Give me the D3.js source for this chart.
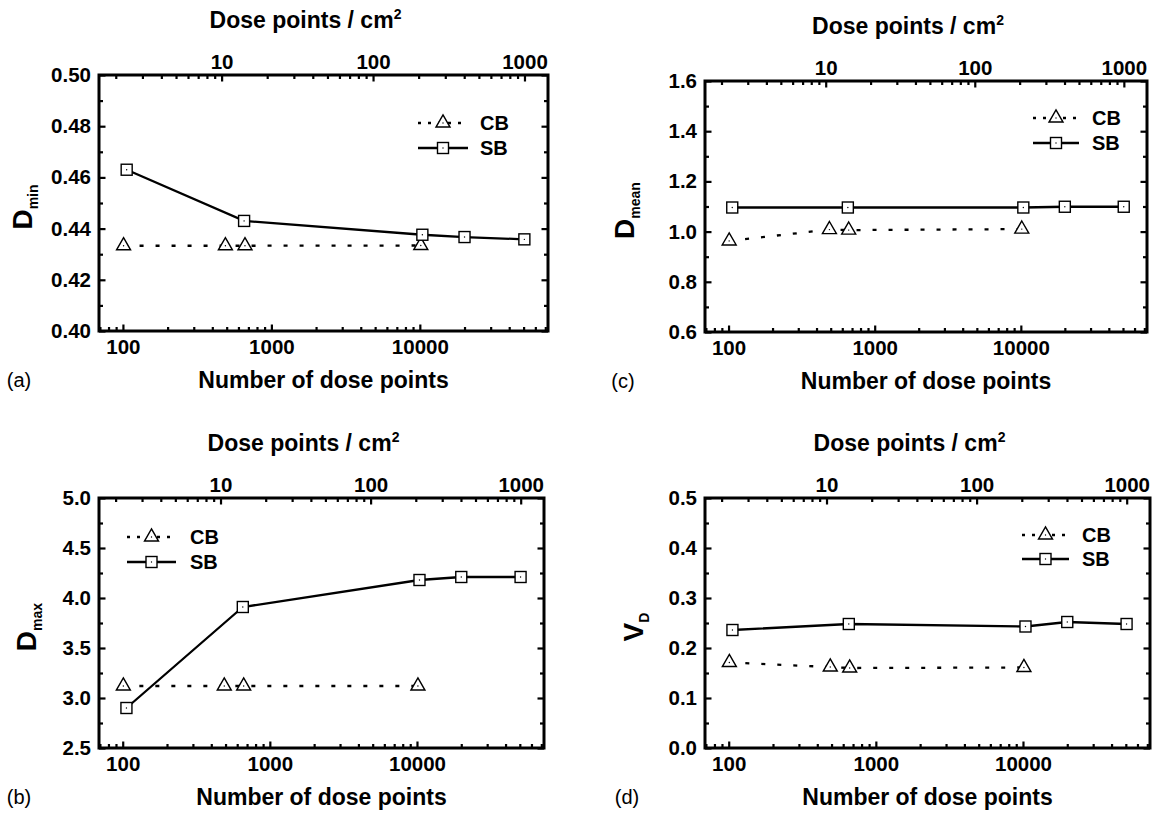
<!DOCTYPE html>
<html>
<head>
<meta charset="utf-8">
<script src="https://cdn.jsdelivr.net/npm/d3@7"></script>
<style>
  body { margin: 0; background: #fff; }
  svg { font-family: "Liberation Sans", Arial, sans-serif; }
</style>
</head>
<body>
<div id="chart"></div>
<script>
// number of dose points for each series
const cbPoints = [101, 490, 664, 10150];
const sbPoints = [106, 655, 10400, 20000, 50600];

// series values
const dminCB = [0.4333, 0.4333, 0.4333, 0.4334];
const dminSB = [0.4630, 0.4430, 0.4376, 0.4367, 0.4358];
const dmeanCB = [0.963, 1.008, 1.006, 1.010];
const dmeanSB = [1.096, 1.096, 1.096, 1.099, 1.099];
const dmaxCB = [3.12, 3.12, 3.12, 3.12];
const dmaxSB = [2.90, 3.91, 4.18, 4.21, 4.21];
const vdCB = [0.171, 0.162, 0.160, 0.161];
const vdSB = [0.236, 0.248, 0.243, 0.252, 0.248];

// tick labels
const bottomTicks = [100, 1000, 10000];
const topTicks = [10, 100, 1000];
const dminTicks = [0.40, 0.42, 0.44, 0.46, 0.48, 0.50];
const dmeanTicks = [0.6, 0.8, 1.0, 1.2, 1.4, 1.6];
const dmaxTicks = [2.5, 3.0, 3.5, 4.0, 4.5, 5.0];
const vdTicks = [0.0, 0.1, 0.2, 0.3, 0.4, 0.5];
const seriesNames = ["CB", "SB"];

const width = 1156, height = 814;
const FONT = "Liberation Sans, Arial, sans-serif";

const svg = d3.select("#chart").append("svg")
  .attr("width", width)
  .attr("height", height);

const panels = [
  { tag: "(a)", sym: "D", sub: "min", cb: dminCB, sb: dminSB, ticks: dminTicks, fmt: ".2f",
    left: 99, right: 548, top: 75, bottom: 331, ylabX: 32, tagX: 19,
    leg: { x0: 418, x1: 468, tx: 480, y0: 123, y1: 148 } },
  { tag: "(c)", sym: "D", sub: "mean", cb: dmeanCB, sb: dmeanSB, ticks: dmeanTicks, fmt: ".1f",
    left: 705, right: 1147, top: 81, bottom: 332, ylabX: 634, tagX: 623,
    leg: { x0: 1033, x1: 1079, tx: 1092, y0: 118, y1: 143 } },
  { tag: "(b)", sym: "D", sub: "max", cb: dmaxCB, sb: dmaxSB, ticks: dmaxTicks, fmt: ".1f",
    left: 99, right: 544, top: 498, bottom: 748, ylabX: 36, tagX: 19,
    leg: { x0: 127, x1: 176, tx: 190, y0: 537, y1: 562 } },
  { tag: "(d)", sym: "V", sub: "D", cb: vdCB, sb: vdSB, ticks: vdTicks, fmt: ".1f",
    left: 705, right: 1150, top: 498, bottom: 748, ylabX: 643, tagX: 627,
    leg: { x0: 1022, x1: 1069, tx: 1082, y0: 535, y1: 559 } }
];

function styleAxis(sel) {
  sel.select(".domain").remove();
  sel.attr("font-family", FONT).attr("font-size", 20.5).attr("font-weight", "bold");
  sel.selectAll("line").attr("stroke", "#000").attr("stroke-width", 2.2);
  sel.selectAll("text").attr("fill", "#000");
}

function drawMarker(g, type, cx, cy) {
  if (type === "CB") {
    g.append("path")
      .attr("d", d3.symbol().type(d3.symbolTriangle).size(85)())
      .attr("transform", `translate(${cx},${cy})`)
      .attr("fill", "#fff").attr("stroke", "#000").attr("stroke-width", 1.4);
  } else {
    g.append("rect")
      .attr("x", cx - 5.5).attr("y", cy - 5.5).attr("width", 11).attr("height", 11)
      .attr("fill", "#fff").attr("stroke", "#000").attr("stroke-width", 1.4);
  }
  g.append("circle").attr("cx", cx).attr("cy", cy).attr("r", 0.7).attr("fill", "#000");
}

function drawPanel(p) {
  const x = d3.scaleLog().domain([69, 73000]).range([p.left, p.right]);
  const xTop = d3.scaleLog().domain([1.55, 1430]).range([p.left, p.right]);
  const y = d3.scaleLinear().domain([p.ticks[0], p.ticks[p.ticks.length - 1]]).range([p.bottom, p.top]);
  const g = svg.append("g");

  const minorX = x.ticks().filter(d => !bottomTicks.includes(d));
  const minorTop = xTop.ticks().filter(d => !topTicks.includes(d));
  const minorY = d3.pairs(p.ticks).map(d => (d[0] + d[1]) / 2);

  // bottom axis
  g.append("g").attr("transform", `translate(0,${p.bottom})`)
    .call(d3.axisBottom(x).tickValues(bottomTicks).tickSize(-6.5).tickPadding(8).tickFormat(d3.format("d")))
    .call(styleAxis);
  g.append("g").attr("transform", `translate(0,${p.bottom})`)
    .call(d3.axisBottom(x).tickValues(minorX).tickSize(-4).tickFormat(""))
    .call(styleAxis);

  // top axis
  g.append("g").attr("transform", `translate(0,${p.top})`)
    .call(d3.axisTop(xTop).tickValues(topTicks).tickSize(-6.5).tickPadding(6).tickFormat(d3.format("d")))
    .call(styleAxis);
  g.append("g").attr("transform", `translate(0,${p.top})`)
    .call(d3.axisTop(xTop).tickValues(minorTop).tickSize(-4).tickFormat(""))
    .call(styleAxis);

  // left and right axes
  g.append("g").attr("transform", `translate(${p.left},0)`)
    .call(d3.axisLeft(y).tickValues(p.ticks).tickSize(-6.5).tickPadding(8).tickFormat(d3.format(p.fmt)))
    .call(styleAxis);
  g.append("g").attr("transform", `translate(${p.left},0)`)
    .call(d3.axisLeft(y).tickValues(minorY).tickSize(-4).tickFormat(""))
    .call(styleAxis);
  g.append("g").attr("transform", `translate(${p.right},0)`)
    .call(d3.axisRight(y).tickValues(p.ticks).tickSize(-6.5).tickFormat(""))
    .call(styleAxis);
  g.append("g").attr("transform", `translate(${p.right},0)`)
    .call(d3.axisRight(y).tickValues(minorY).tickSize(-4).tickFormat(""))
    .call(styleAxis);

  // frame
  g.append("rect")
    .attr("x", p.left).attr("y", p.top)
    .attr("width", p.right - p.left).attr("height", p.bottom - p.top)
    .attr("fill", "none").attr("stroke", "#000").attr("stroke-width", 3);

  // lines
  const line = d3.line().x(d => x(d[0])).y(d => y(d[1]));
  g.append("path").datum(d3.zip(cbPoints, p.cb))
    .attr("d", line).attr("fill", "none").attr("stroke", "#000")
    .attr("stroke-width", 2.3).attr("stroke-dasharray", "4,12");
  g.append("path").datum(d3.zip(sbPoints, p.sb))
    .attr("d", line).attr("fill", "none").attr("stroke", "#000").attr("stroke-width", 2.3);

  d3.zip(cbPoints, p.cb).forEach(d => drawMarker(g, "CB", x(d[0]), y(d[1])));
  d3.zip(sbPoints, p.sb).forEach(d => drawMarker(g, "SB", x(d[0]), y(d[1])));

  // legend
  const L = p.leg, mx = (L.x0 + L.x1) / 2;
  g.append("line").attr("x1", L.x0).attr("x2", L.x1).attr("y1", L.y0).attr("y2", L.y0)
    .attr("stroke", "#000").attr("stroke-width", 2.3).attr("stroke-dasharray", "3,7");
  drawMarker(g, "CB", mx, L.y0);
  g.append("line").attr("x1", L.x0).attr("x2", L.x1).attr("y1", L.y1).attr("y2", L.y1)
    .attr("stroke", "#000").attr("stroke-width", 2.3);
  drawMarker(g, "SB", mx, L.y1);
  [L.y0, L.y1].forEach((yy, i) => {
    g.append("text").attr("x", L.tx).attr("y", yy).attr("dy", "0.36em")
      .attr("font-size", 20).attr("font-weight", "bold").text(seriesNames[i]);
  });

  // axis titles
  const cx = (p.left + p.right) / 2;
  g.append("text").attr("x", cx).attr("y", p.bottom + 57)
    .attr("text-anchor", "middle").attr("font-size", 23).attr("font-weight", "bold")
    .text("Number of dose points");
  const tt = g.append("text").attr("x", cx - 18).attr("y", p.top - 47)
    .attr("text-anchor", "middle").attr("font-size", 23).attr("font-weight", "bold");
  tt.append("tspan").text("Dose points / cm");
  tt.append("tspan").attr("font-size", 14).attr("dy", -9).text("2");

  const yl = g.append("text")
    .attr("transform", `translate(${p.ylabX},${(p.top + p.bottom) / 2 + 4}) rotate(-90)`)
    .attr("text-anchor", "middle").attr("font-weight", "bold");
  yl.append("tspan").attr("font-size", 28).text(p.sym);
  yl.append("tspan").attr("font-size", 14).attr("dy", 6).text(p.sub);

  // panel tag
  g.append("text").attr("x", p.tagX).attr("y", p.bottom + 56)
    .attr("text-anchor", "middle").attr("font-size", 20).text(p.tag);
}

panels.forEach(drawPanel);
</script>
</body>
</html>
